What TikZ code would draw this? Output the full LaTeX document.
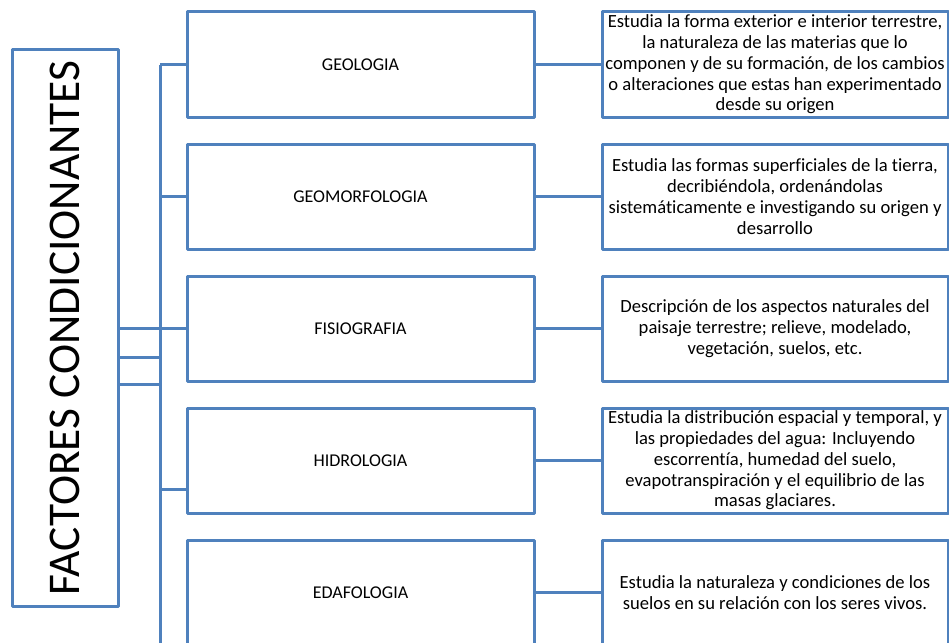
\documentclass[tikz,border=0pt]{standalone}
\usepackage{fontspec}
\setmainfont{Carlito}[Ligatures=NoCommon]
\definecolor{azul}{RGB}{79,129,189}
\tikzset{
	caja/.style={draw=azul, line width=3pt, rectangle, inner sep=0pt, minimum width=347pt, minimum height=105pt, align=center},
	rama/.style={draw=azul, line width=3pt}
}
\begin{document}
\begin{tikzpicture}[x=1pt, y=-1pt, line join=round, line cap=butt, font=\fontsize{18}{21}\selectfont]
			\useasboundingbox (0,0) rectangle (949,642);
			% titulo
			\node[rama, rectangle, inner sep=0pt, minimum width=556pt, minimum height=106pt, rotate=90, font=\fontsize{45.4}{50}\selectfont] (F) at (65,328){FACTORES CONDICIONANTES};
			% disciplinas
			\node[caja] (G1) at (360.5,64.5){GEOLOGIA};
			\node[caja] (G2) at (360.5,196.5){GEOMORFOLOGIA};
			\node[caja] (G3) at (360.5,328.5){FISIOGRAFIA};
			\node[caja] (G4) at (360.5,460.5){HIDROLOGIA};
			\node[caja] (G5) at (360.5,592.5){EDAFOLOGIA};
			% descripciones
			\begin{scope}[every node/.append style={font=\fontsize{18.6}{20.8}\selectfont}]
			\node[caja, minimum width=346pt] (D1) at (775,64.5){Estudia la forma exterior e interior terrestre,\\ la naturaleza de las materias que lo\\ componen y de su formación, de los cambios\\ o alteraciones que estas han experimentado\\ desde su origen};
			\node[caja, minimum width=346pt] (D2) at (775,196.5){Estudia las formas superficiales de la tierra,\\ decribiéndola, ordenándolas\\ sistemáticamente e investigando su origen y\\ desarrollo};
			\node[caja, minimum width=346pt] (D3) at (775,328.5){Descripción de los aspectos naturales del\\ paisaje terrestre; relieve, modelado,\\ vegetación, suelos, etc.};
			\node[caja, minimum width=346pt] (D4) at (775,460.5){Estudia la distribución espacial y temporal, y\\ las propiedades del agua: Incluyendo\\ escorrentía, humedad del suelo,\\ evapotranspiración y el equilibrio de las\\ masas glaciares.};
			\node[caja, minimum width=346pt] (D5) at (775,592.5){Estudia la naturaleza y condiciones de los\\ suelos en su relación con los seres vivos.};
			\end{scope}
			% tronco
			\coordinate (T) at (160,64.5);
			\coordinate (Tb) at (160,660);
			\coordinate (R4) at (160,489);
			\draw[rama]
			(T)--(Tb)
			(T)--(G1.west)
			(T|-G2.west)--(G2.west)
			(F.south|-G3.west)--(G3.west)
			(F.south|-0,357)--(T|-0,357)
			(F.south|-0,384)--(T|-0,384)
			(R4)--(R4-|G4.west)
			(G1.east)--(D1.west)
			(G2.east)--(D2.west)
			(G3.east)--(D3.west)
			(G4.east)--(D4.west)
			(G5.east)--(D5.west)
			;
		\end{tikzpicture}
\end{document}
